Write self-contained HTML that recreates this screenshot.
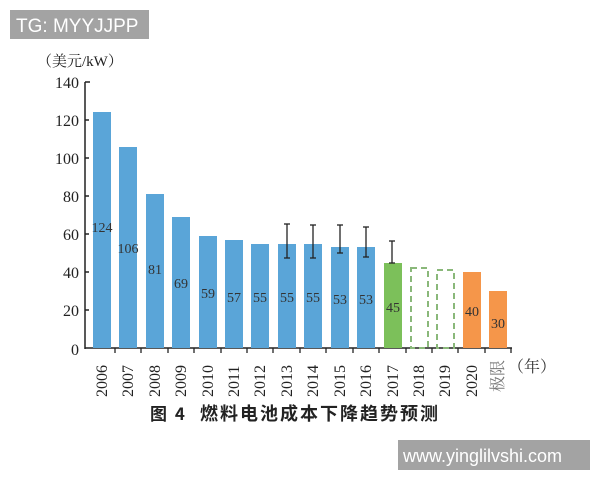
<!DOCTYPE html>
<html><head><meta charset="utf-8"><style>
body{margin:0;background:#fff}
svg text{font-family:"Liberation Serif","Noto Serif CJK SC",serif}
</style></head><body>
<svg width="600" height="480" xmlns="http://www.w3.org/2000/svg">
<rect width="600" height="480" fill="#fff"/>
<rect x="10" y="10" width="139" height="29" fill="#a3a3a3"/>
<text x="16" y="32" font-size="19" fill="#fff" style="font-family:'Liberation Sans',sans-serif">TG: MYYJJPP</text>
<text x="37" y="66" font-size="15" fill="#222">（美元/kW）</text>
<g font-size="16" fill="#222" text-anchor="end">
<text x="79" y="88">140</text><text x="79" y="126">120</text><text x="79" y="164">100</text>
<text x="79" y="202">80</text><text x="79" y="240">60</text><text x="79" y="278">40</text>
<text x="79" y="316">20</text><text x="79" y="355">0</text>
</g>
<g stroke="#222" stroke-width="1.5" fill="none">
<line x1="85" y1="82" x2="85" y2="349"/>
<line x1="85" y1="82" x2="90" y2="82"/><line x1="85" y1="120" x2="89" y2="120"/><line x1="85" y1="158" x2="89" y2="158"/>
<line x1="85" y1="196" x2="89" y2="196"/><line x1="85" y1="234" x2="89" y2="234"/><line x1="85" y1="272" x2="89" y2="272"/>
<line x1="85" y1="310" x2="89" y2="310"/>
<line x1="85" y1="348" x2="512" y2="348"/>
</g>
<g fill="#5aa5d8">
<rect x="93" y="112" width="18" height="236"/>
<rect x="119" y="147" width="18" height="201"/>
<rect x="146" y="194" width="18" height="154"/>
<rect x="172" y="217" width="18" height="131"/>
<rect x="199" y="236" width="18" height="112"/>
<rect x="225" y="240" width="18" height="108"/>
<rect x="251" y="244" width="18" height="104"/>
<rect x="278" y="244" width="18" height="104"/>
<rect x="304" y="244" width="18" height="104"/>
<rect x="331" y="247" width="18" height="101"/>
<rect x="357" y="247" width="18" height="101"/>
</g>
<rect x="384" y="263" width="18" height="85" fill="#7cc05a"/>
<rect x="411" y="268" width="17" height="80" fill="none" stroke="#8ab87a" stroke-width="2" stroke-dasharray="6,4"/>
<rect x="437" y="270" width="17" height="78" fill="none" stroke="#8ab87a" stroke-width="2" stroke-dasharray="6,4"/>
<rect x="463" y="272" width="18" height="76" fill="#f5964a"/>
<rect x="489" y="291" width="18" height="57" fill="#f5964a"/>
<g stroke="#222" stroke-width="1.3">
<line x1="287" y1="224" x2="287" y2="258"/><line x1="284" y1="224" x2="290" y2="224"/><line x1="284" y1="258" x2="290" y2="258"/>
<line x1="313" y1="225" x2="313" y2="258"/><line x1="310" y1="225" x2="316" y2="225"/><line x1="310" y1="258" x2="316" y2="258"/>
<line x1="340" y1="225" x2="340" y2="253"/><line x1="337" y1="225" x2="343" y2="225"/><line x1="337" y1="253" x2="343" y2="253"/>
<line x1="366" y1="227" x2="366" y2="257"/><line x1="363" y1="227" x2="369" y2="227"/><line x1="363" y1="257" x2="369" y2="257"/>
<line x1="392" y1="241" x2="392" y2="263"/><line x1="389" y1="241" x2="395" y2="241"/><line x1="389" y1="263" x2="395" y2="263"/>
</g>
<g stroke="#222" stroke-width="1.3">
<line x1="115" y1="348" x2="115" y2="353"/><line x1="141" y1="348" x2="141" y2="353"/><line x1="168" y1="348" x2="168" y2="353"/>
<line x1="194" y1="348" x2="194" y2="353"/><line x1="221" y1="348" x2="221" y2="353"/><line x1="247" y1="348" x2="247" y2="353"/>
<line x1="273" y1="348" x2="273" y2="353"/><line x1="300" y1="348" x2="300" y2="353"/><line x1="326" y1="348" x2="326" y2="353"/>
<line x1="353" y1="348" x2="353" y2="353"/><line x1="379" y1="348" x2="379" y2="353"/><line x1="406" y1="348" x2="406" y2="353"/>
<line x1="432" y1="348" x2="432" y2="353"/><line x1="458" y1="348" x2="458" y2="353"/><line x1="485" y1="348" x2="485" y2="353"/>
<line x1="511" y1="348" x2="511" y2="353"/>
</g>
<g font-size="14" fill="#333" text-anchor="middle">
<text x="102" y="232">124</text><text x="128" y="253">106</text><text x="155" y="274">81</text>
<text x="181" y="288">69</text><text x="208" y="298">59</text><text x="234" y="302">57</text>
<text x="260" y="302">55</text><text x="287" y="302">55</text><text x="313" y="302">55</text>
<text x="340" y="304">53</text><text x="366" y="304">53</text><text x="393" y="312">45</text>
<text x="472" y="316">40</text><text x="498" y="328">30</text>
</g>
<g font-size="16" fill="#222">
<text transform="translate(107,397) rotate(-90)">2006</text>
<text transform="translate(133,397) rotate(-90)">2007</text>
<text transform="translate(160,397) rotate(-90)">2008</text>
<text transform="translate(186,397) rotate(-90)">2009</text>
<text transform="translate(213,397) rotate(-90)">2010</text>
<text transform="translate(239,397) rotate(-90)">2011</text>
<text transform="translate(265,397) rotate(-90)">2012</text>
<text transform="translate(292,397) rotate(-90)">2013</text>
<text transform="translate(318,397) rotate(-90)">2014</text>
<text transform="translate(345,397) rotate(-90)">2015</text>
<text transform="translate(371,397) rotate(-90)">2016</text>
<text transform="translate(398,397) rotate(-90)">2017</text>
<text transform="translate(424,397) rotate(-90)">2018</text>
<text transform="translate(450,397) rotate(-90)">2019</text>
<text transform="translate(477,397) rotate(-90)">2020</text>
<text transform="translate(503,392) rotate(-90)" fill="#777">极限</text>
</g>
<text x="508" y="372" font-size="16" fill="#333">（年）</text>
<text x="150" y="420" font-size="17" font-weight="bold" fill="#222" letter-spacing="2" style="font-family:'Noto Sans CJK SC',sans-serif">图 4</text>
<text x="200" y="420" font-size="18" font-weight="bold" fill="#222" letter-spacing="2" style="font-family:'Noto Sans CJK SC',sans-serif">燃料电池成本下降趋势预测</text>
<rect x="398" y="440" width="192" height="30" fill="#a3a3a3"/>
<text x="403" y="462" font-size="18" fill="#fff" style="font-family:'Liberation Sans',sans-serif">www.yinglilvshi.com</text>
</svg>
</body></html>
